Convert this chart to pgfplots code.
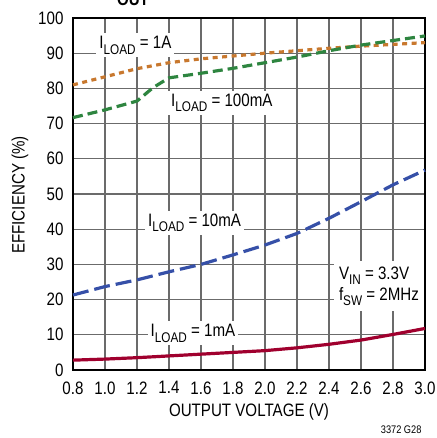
\documentclass[border=0pt]{standalone}
\usepackage{fontspec}
\setmainfont{Liberation Sans}[FakeStretch=0.84]
\usepackage{pgfplots}
\pgfplotsset{compat=1.18}
\definecolor{c1A}{HTML}{C8782E}
\definecolor{c100}{HTML}{2E8540}
\definecolor{c10}{HTML}{3650A8}
\definecolor{c1}{HTML}{A0002E}
\newcommand\sub[1]{\raisebox{-0.32em}{\fontsize{14}{14}\selectfont #1}}
\begin{document}
\begin{tikzpicture}
\path[use as bounding box] (-73pt,-68pt) rectangle (363pt,370pt);
\begin{axis}[
  scale only axis, width=352pt, height=352pt,
  xmin=0.8, xmax=3.0, ymin=0, ymax=100,
  xtick={0.8,1.0,...,3.01}, ytick={0,10,...,100},
  xticklabel style={/pgf/number format/fixed,/pgf/number format/fixed zerofill,/pgf/number format/precision=1, yshift=-8pt},
  yticklabel style={xshift=-6pt},
  /pgf/number format/assume math mode=true,
  tick label style={font=\fontsize{18}{18}\selectfont},
  major tick length=0pt,
  grid=major,
  major grid style={line width=1.3pt, color=black!58},
  axis line style={line width=1.8pt},
  clip=false,
]
\addplot[c1A, line width=3.2pt, dash pattern=on 5pt off 4.5pt] coordinates {
(0.8,81) (1.0,83.3) (1.2,85.6) (1.4,87.3) (1.6,88.4) (1.8,89.2) (2.0,90) (2.2,90.7) (2.4,91.4) (2.6,92) (2.8,92.5) (3.0,93)};
\addplot[c100, line width=3.2pt, dash pattern=on 10pt off 5pt] coordinates {
(0.8,71.7) (1.0,73.9) (1.2,76.4) (1.3,80.2) (1.4,83) (1.6,84.3) (1.8,85.7) (2.0,87.3) (2.2,88.9) (2.4,90.7) (2.6,92.3) (2.8,93.6) (3.0,94.9)};
\addplot[c10, line width=3.2pt, dash pattern=on 16pt off 6pt] coordinates {
(0.8,21.3) (1.0,23.7) (1.2,25.6) (1.4,27.9) (1.6,30) (1.8,32.7) (2.0,35.5) (2.2,38.8) (2.4,43.1) (2.6,47.8) (2.8,52.6) (3.0,56.8)};
\addplot[c1, line width=3.2pt] coordinates {
(0.8,2.8) (1.0,3.1) (1.2,3.5) (1.4,4.0) (1.6,4.5) (1.8,5.0) (2.0,5.5) (2.2,6.3) (2.4,7.3) (2.6,8.5) (2.8,10.1) (3.0,11.8)};
\node[fill=white, inner sep=3pt, font=\fontsize{18}{18}\selectfont] at (axis cs:1.19,92.3) {I\sub{LOAD} = 1A};
\node[fill=white, inner sep=3pt, font=\fontsize{18}{18}\selectfont] at (axis cs:1.73,75.9) {I\sub{LOAD} = 100mA};
\node[fill=white, inner sep=3pt, font=\fontsize{18}{18}\selectfont] at (axis cs:1.56,41.8) {I\sub{LOAD} = 10mA};
\node[fill=white, inner sep=3pt, font=\fontsize{18}{18}\selectfont] at (axis cs:1.55,10.5) {I\sub{LOAD} = 1mA};
\node[fill=white, inner sep=5pt, anchor=west, align=left, font=\fontsize{18}{21}\selectfont] at (axis cs:2.43,23.8) {V\sub{IN} = 3.3V\\f\sub{SW} = 2MHz};
\end{axis}
\node[font=\fontsize{18}{18}\selectfont] at (176pt,-42pt) {OUTPUT VOLTAGE (V)};
\node[font=\fontsize{18}{18}\selectfont, rotate=90] at (-53pt,175pt) {EFFICIENCY (\%)};
\node[font=\fontsize{11}{11}\selectfont, anchor=east] at (352pt,-60pt) {3372 G28};
\node[font=\bfseries\fontsize{18}{18}\selectfont, anchor=base] at (60pt,364pt) {OUT};
\end{tikzpicture}
\end{document}
